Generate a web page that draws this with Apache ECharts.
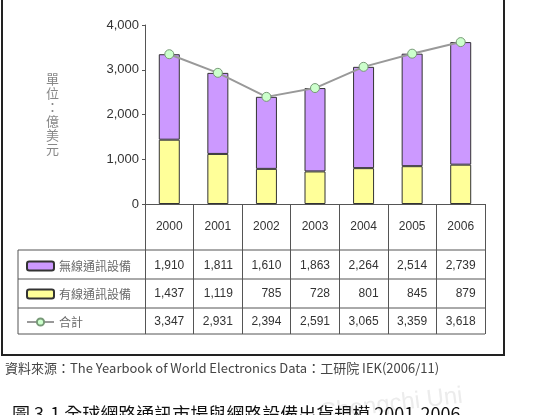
<!DOCTYPE html>
<html>
<head>
<meta charset="utf-8">
<script src="https://cdn.jsdelivr.net/npm/echarts@6/dist/echarts.min.js"></script>
<style>
  html, body { margin: 0; padding: 0; background: #fff; }
  #chart { width: 540px; height: 415px; }
</style>
</head>
<body>
<div id="chart"></div>
<script>
// 資料
var years = ['2000', '2001', '2002', '2003', '2004', '2005', '2006'];
var wireless = [1910, 1811, 1610, 1863, 2264, 2514, 2739];
var wired = [1437, 1119, 785, 728, 801, 845, 879];
var total = [3347, 2931, 2394, 2591, 3065, 3359, 3618];
var names = ['無線通訊設備', '有線通訊設備', '合計'];

var numFont = "'Liberation Sans Narrow', 'Liberation Sans', sans-serif";
var cjkFont = "'Noto Sans CJK TC', sans-serif";
function fmt(v) { return Number(v).toLocaleString('en-US'); }

// 表格的數值列 (靠右對齊)
function rowAxis(data, margin) {
  return {
    type: 'category',
    gridIndex: 0,
    position: 'bottom',
    data: data.map(fmt),
    axisLine: { show: false },
    axisTick: { show: false },
    axisLabel: {
      interval: 0,
      margin: margin,
      verticalAlign: 'middle',
      formatter: function (v) { return '{a|' + v + '}'; },
      rich: {
        a: { width: 30, align: 'right', fontSize: 12, fontFamily: numFont, color: '#333' }
      }
    }
  };
}

// 每列一個圖例, 對齊表格
function rowLegend(name, top) {
  return {
    orient: 'vertical',
    left: 26,
    top: top,
    padding: 0,
    itemWidth: 27,
    itemHeight: 9,
    itemGap: 0,
    data: [name],
    textStyle: { color: '#6a6a6a', fontSize: 12, fontFamily: cjkFont }
  };
}

var myChart = echarts.init(document.getElementById('chart'));
var option = {
  backgroundColor: '#fff',
  animation: false,
  grid: { left: 145, right: 55, top: 25, bottom: 211, outerBoundsMode: 'none' },
  legend: [
    rowLegend(names[0], 260),
    rowLegend(names[1], 288),
    rowLegend(names[2], 316)
  ],
  xAxis: [
    {
      type: 'category',
      data: years,
      axisLine: { lineStyle: { color: '#555', width: 1 } },
      axisTick: { show: true, interval: 0, length: 130, lineStyle: { color: '#555' } },
      axisLabel: {
        interval: 0, margin: 23, verticalAlign: 'middle',
        fontSize: 12, fontFamily: numFont, color: '#333'
      }
    },
    rowAxis(wireless, 62),
    rowAxis(wired, 90),
    rowAxis(total, 118)
  ],
  yAxis: {
    type: 'value',
    min: 0,
    max: 4000,
    interval: 1000,
    splitLine: { show: false },
    axisLine: { show: true, lineStyle: { color: '#555' } },
    axisTick: { show: true, length: 3, lineStyle: { color: '#555' } },
    axisLabel: {
      margin: 6, fontSize: 13, fontFamily: numFont, color: '#333',
      formatter: function (v) { return fmt(v); }
    }
  },
  series: [
    {
      name: '有線通訊設備',
      type: 'bar',
      stack: 'sum',
      barWidth: 21,
      itemStyle: { color: '#ffff99', borderColor: '#333', borderWidth: 1 },
      data: wired
    },
    {
      name: '無線通訊設備',
      type: 'bar',
      stack: 'sum',
      barWidth: 21,
      itemStyle: { color: '#cc99ff', borderColor: '#333', borderWidth: 1 },
      data: wireless
    },
    {
      name: '合計',
      type: 'line',
      symbol: 'circle',
      symbolSize: 9,
      z: 10,
      lineStyle: { color: '#999', width: 2 },
      itemStyle: { color: '#ccffcc', borderColor: '#779977', borderWidth: 1 },
      data: total
    }
  ],
  graphic: [
    // 外框
    { type: 'rect', shape: { x: 2, y: -5, width: 502, height: 360 },
      style: { fill: null, stroke: '#222', lineWidth: 2 }, silent: true },
    // 表格橫線
    { type: 'line', shape: { x1: 18, y1: 250, x2: 485, y2: 250 }, style: { stroke: '#555', lineWidth: 1 } },
    { type: 'line', shape: { x1: 18, y1: 279, x2: 485, y2: 279 }, style: { stroke: '#555', lineWidth: 1 } },
    { type: 'line', shape: { x1: 18, y1: 308, x2: 485, y2: 308 }, style: { stroke: '#555', lineWidth: 1 } },
    { type: 'line', shape: { x1: 18, y1: 334, x2: 485, y2: 334 }, style: { stroke: '#555', lineWidth: 1 } },
    { type: 'line', shape: { x1: 18, y1: 250, x2: 18, y2: 334 }, style: { stroke: '#555', lineWidth: 1 } },
    // 單位
    { type: 'text', left: 46, top: 72,
      style: { text: '單\n位\n：\n億\n美\n元', fontSize: 13, lineHeight: 14, fill: '#888',
               align: 'center', fontFamily: cjkFont } },
    // 資料來源
    { type: 'text', left: 5, top: 362,
      style: { text: '資料來源：The Yearbook of World Electronics Data：工研院 IEK(2006/11)',
               fontSize: 13, fill: '#444', fontFamily: cjkFont } },
    // 浮水印
    { type: 'text', left: 318, top: 384, rotation: 0.12,
      style: { text: 'Chengchi Uni', fontSize: 24, fill: '#ececec', fontFamily: 'sans-serif' } },
    // 圖標題 (被裁切)
    { type: 'text', left: 12, top: 405,
      style: { text: '圖 3-1 全球網路通訊市場與網路設備出貨規模 2001-2006',
               fontSize: 18, fill: '#111', fontFamily: "'Noto Sans CJK TC', serif" } }
  ]
};
myChart.setOption(option);
</script>
</body>
</html>
